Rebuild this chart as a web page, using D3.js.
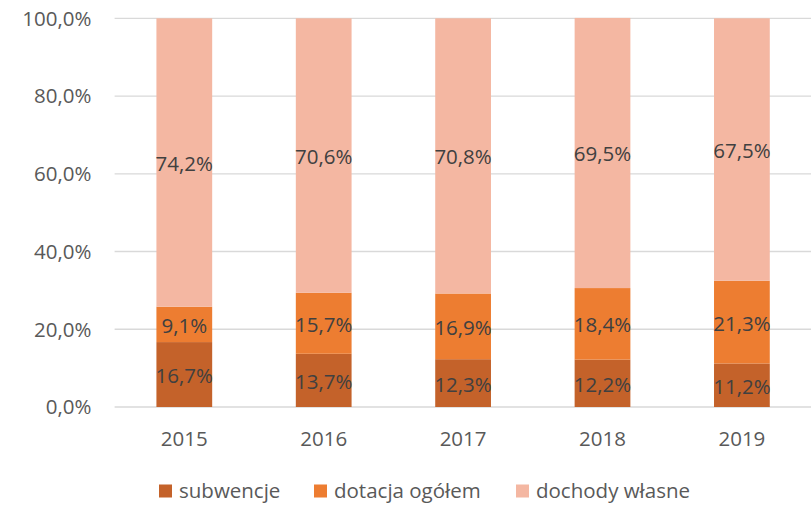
<!DOCTYPE html>
<html><head><meta charset="utf-8">
<script src="https://cdn.jsdelivr.net/npm/d3@7"></script>
<style>body{margin:0;background:#fff}svg{display:block}</style>
</head><body>
<svg id="c" width="811" height="505"></svg>
<script>
const years = ["2015","2016","2017","2018","2019"];
const seriesNames = ["subwencje","dotacja ogółem","dochody własne"];
const subwencje = [16.7,13.7,12.3,12.2,11.2];
const dotacja = [9.1,15.7,16.9,18.4,21.3];
const dochody = [74.2,70.6,70.8,69.5,67.5];
const yTicks = [0,20,40,60,80,100];
const colors = ["#C4622A","#ED7D31","#F4B7A2"];

const svg = d3.select("#c");
const font = "'Open Sans', sans-serif";
const fs = 20.5;
const x = d3.scaleBand().domain(years).range([114.6,811.6]).paddingInner(0.6).paddingOuter(0.3);
const y = d3.scaleLinear().domain([0,100]).range([407,18.3]);
const fmt = v => v.toFixed(1).replace(".",",") + "%";

// gridlines
svg.append("g").selectAll("line").data(yTicks).join("line")
  .attr("x1",114.6).attr("x2",811).attr("y1",d=>y(d)).attr("y2",d=>y(d))
  .attr("stroke","#D9D9D9").attr("stroke-width",1.3);

const rows = years.map((yr,i)=>({year:yr, s0:subwencje[i], s1:dotacja[i], s2:dochody[i]}));
const stack = d3.stack().keys(["s0","s1","s2"])(rows);

const g = svg.append("g");
stack.forEach((layer,k)=>{
  g.selectAll(null).data(layer).join("rect")
    .attr("x",d=>x(d.data.year)).attr("width",x.bandwidth())
    .attr("y",d=>y(d[1])).attr("height",d=>y(d[0])-y(d[1]))
    .attr("fill",colors[k]);
});
stack.forEach((layer,k)=>{
  g.selectAll(null).data(layer).join("text")
    .attr("x",d=>x(d.data.year)+x.bandwidth()/2)
    .attr("y",d=>(y(d[0])+y(d[1]))/2 + 8.5)
    .attr("text-anchor","middle")
    .attr("font-family",font).attr("font-size",fs).attr("fill","#404040")
    .text(d=>fmt(d.data["s"+k]));
});

// y axis labels
svg.append("g").selectAll("text").data(yTicks).join("text")
  .attr("x",91.5).attr("y",d=>y(d)+7.3).attr("text-anchor","end")
  .attr("font-family",font).attr("font-size",fs).attr("fill","#595959")
  .text(d=>fmt(d));
// x labels
svg.append("g").selectAll("text").data(years).join("text")
  .attr("x",d=>x(d)+x.bandwidth()/2).attr("y",446).attr("text-anchor","middle")
  .attr("font-family",font).attr("font-size",fs).attr("fill","#595959")
  .text(d=>d);

// legend
const legX = [159,314,516];
const leg = svg.append("g");
seriesNames.forEach((n,i)=>{
  leg.append("rect").attr("x",legX[i]).attr("y",484.5).attr("width",13).attr("height",13).attr("fill",colors[i]);
  leg.append("text").attr("x",legX[i]+20).attr("y",497.5)
    .attr("font-family",font).attr("font-size",fs).attr("fill","#595959").text(n);
});
</script>
</body></html>
